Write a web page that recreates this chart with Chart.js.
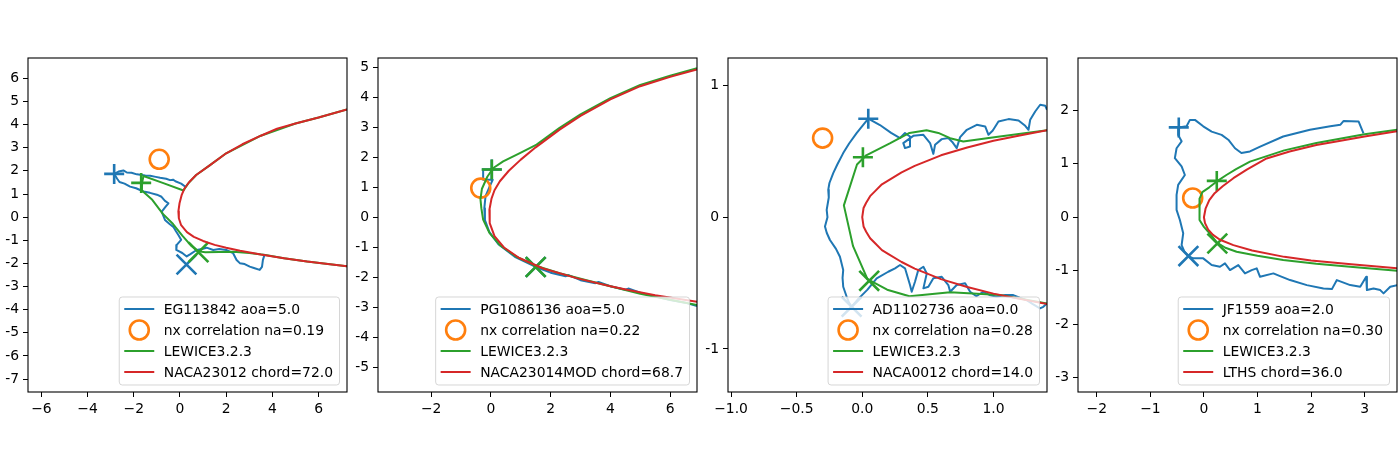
<!DOCTYPE html>
<html>
<head>
<meta charset="utf-8">
<script src="https://cdn.jsdelivr.net/npm/chart.js@4.4.1/dist/chart.umd.min.js"></script>
<style>
body { margin: 0; background: #fff; width: 1400px; height: 450px; overflow: hidden; position: relative; }
canvas { position: absolute; top: 0; }
</style>
</head>
<body>
<canvas id="c1" width="350" height="450" style="left:0px"></canvas>
<canvas id="c2" width="350" height="450" style="left:350px"></canvas>
<canvas id="c3" width="350" height="450" style="left:700px"></canvas>
<canvas id="c4" width="350" height="450" style="left:1050px"></canvas>
<script>
// ---- panel 1 : EG113842 ----
const p1Labels = ['EG113842 aoa=5.0', 'nx correlation na=0.19', 'LEWICE3.2.3', 'NACA23012 chord=72.0'];
const p1XRange = [-6.58, 7.23];
const p1YRange = [-7.56, 6.88];
const p1XTicks = [-6, -4, -2, 0, 2, 4, 6];
const p1YTicks = [-7, -6, -5, -4, -3, -2, -1, 0, 1, 2, 3, 4, 5, 6];
const p1Ice = [[0.25,1.3],[0.05,1.45],[-0.2,1.55],[-0.3,1.62],[-0.43,1.6],[-0.6,1.66],[-0.86,1.7],[-1.05,1.74],[-1.29,1.79],[-1.5,1.8],
  [-1.87,1.85],[-2.1,1.92],[-2.3,1.93],[-2.45,2.02],[-2.66,1.97],[-2.85,1.87],[-2.72,1.66],[-2.62,1.52],[-2.4,1.45],[-2.16,1.32],
  [-1.9,1.25],[-1.58,1.11],[-1.3,1.05],[-1.0,0.97],[-0.8,0.88],[-0.65,0.7],[-0.5,0.6],[-0.62,0.45],[-0.79,0.24],[-0.72,0.05],
  [-0.65,-0.12],[-0.45,-0.3],[-0.29,-0.42],[-0.18,-0.6],[-0.07,-0.77],[0.05,-0.98],[-0.14,-1.2],[-0.16,-1.42],[0.1,-1.55],[0.29,-1.7],
  [0.45,-1.6],[0.72,-1.42],[0.95,-1.38],[1.15,-1.32],[1.44,-1.42],[1.7,-1.38],[2.0,-1.42],[2.3,-1.56],[2.45,-1.85],[2.59,-1.99],
  [2.8,-2.03],[3.02,-2.14],[3.2,-2.2],[3.45,-2.28],[3.55,-2.15],[3.59,-1.85],[3.67,-1.6]];
const p1IceMarks = [[-2.85,1.87],[0.28,-2.05]];
const p1Nx = [[-0.9,2.5]];
const p1Lewice = [[7.23,4.66],[6.0,4.31],[5.0,4.05],[3.5,3.52],[2.0,2.76],[1.3,2.25],[0.7,1.82],[0.35,1.45],[0.15,1.15],[-0.72,1.47],
  [-1.58,1.78],[-1.64,1.5],[-1.65,1.15],[-1.2,0.75],[-0.75,0.15],[-0.3,-0.3],[0.1,-0.8],[0.5,-1.25],[0.8,-1.48],[1.1,-1.52],
  [2.3,-1.5],[3.0,-1.55],[3.7,-1.64],[4.5,-1.78],[5.5,-1.92],[7.23,-2.12]];
const p1LewiceMarks = [[-1.68,1.48],[0.8,-1.52]];
const p1Airfoil = [[7.23,4.66],[6.0,4.31],[5.0,4.05],[4.2,3.82],[3.5,3.52],[2.7,3.15],[2.0,2.76],[1.3,2.25],[0.7,1.82],[0.4,1.52],
  [0.2,1.25],[0.07,0.95],[-0.02,0.6],[-0.07,0.25],[-0.05,-0.05],[0.05,-0.35],[0.3,-0.65],[0.6,-0.85],[1.0,-1.03],[1.5,-1.2],
  [2.0,-1.32],[2.6,-1.45],[3.5,-1.62],[4.5,-1.78],[5.5,-1.92],[6.4,-2.03],[7.23,-2.12]];

// ---- panel 2 : PG1086136 ----
const p2Labels = ['PG1086136 aoa=5.0', 'nx correlation na=0.22', 'LEWICE3.2.3', 'NACA23014MOD chord=68.7'];
const p2XRange = [-3.78, 6.9];
const p2YRange = [-5.83, 5.31];
const p2XTicks = [-2, 0, 2, 4, 6];
const p2YTicks = [-5, -4, -3, -2, -1, 0, 1, 2, 3, 4, 5];
const p2Ice = [[-0.26,1.55],[-0.26,1.25],[0.06,1.25],[-0.05,1.0],[-0.18,0.7],[-0.22,0.3],[-0.2,-0.1],[-0.05,-0.5],[0.25,-0.9],[0.8,-1.32],
  [1.5,-1.66],[2.0,-1.85],[2.5,-1.97],[2.6,-1.93],[3.0,-2.1],[3.5,-2.2],[3.6,-2.16],[4.0,-2.3],[4.5,-2.42],[4.6,-2.38],
  [5.0,-2.52],[5.5,-2.64],[6.0,-2.76],[6.5,-2.85],[6.9,-2.96]];
const p2IceMarks = [[0.03,1.59],[1.5,-1.66]];
const p2Nx = [[-0.34,0.97]];
const p2Lewice = [[6.9,4.97],[6.0,4.72],[5.0,4.41],[4.0,3.97],[3.0,3.43],[2.3,2.98],[1.53,2.42],[0.97,2.14],[0.41,1.86],[0.08,1.64],
  [-0.12,1.35],[-0.3,0.95],[-0.35,0.6],[-0.32,0.3],[-0.26,-0.08],[-0.05,-0.52],[0.3,-0.93],[0.85,-1.32],[1.5,-1.62],[2.3,-1.87],
  [3.2,-2.1],[4.0,-2.3],[5.0,-2.55],[6.0,-2.75],[6.9,-2.93]];
const p2LewiceMarks = [[0.03,1.59],[1.5,-1.66]];
const p2Airfoil = [[6.9,4.93],[6.0,4.68],[5.0,4.37],[4.0,3.93],[3.0,3.38],[2.3,2.92],[1.5,2.33],[1.0,1.92],[0.6,1.55],[0.3,1.2],
  [0.12,0.9],[0.02,0.62],[-0.05,0.25],[-0.04,-0.2],[0.12,-0.63],[0.45,-1.02],[0.95,-1.36],[1.75,-1.71],[2.9,-2.04],[4.0,-2.3],
  [4.6,-2.43],[5.5,-2.6],[6.9,-2.82]];

// ---- panel 3 : AD1102736 ----
const p3Labels = ['AD1102736 aoa=0.0', 'nx correlation na=0.28', 'LEWICE3.2.3', 'NACA0012 chord=14.0'];
const p3XRange = [-1.023, 1.408];
const p3YRange = [-1.327, 1.209];
const p3XTicks = [-1, -0.5, 0, 0.5, 1];
const p3YTicks = [-1, 0, 1];
const p3Ice = [[1.408,0.816],[1.395,0.846],[1.356,0.854],[1.318,0.803],[1.28,0.74],[1.267,0.664],[1.242,0.694],[1.191,0.735],[1.115,0.745],[1.038,0.727],
  [0.995,0.659],[0.962,0.626],[0.937,0.689],[0.873,0.702],[0.797,0.664],[0.746,0.608],[0.72,0.525],[0.69,0.567],[0.656,0.601],[0.606,0.593],
  [0.555,0.55],[0.542,0.481],[0.517,0.563],[0.466,0.626],[0.389,0.618],[0.313,0.563],[0.326,0.525],[0.364,0.537],[0.364,0.613],[0.326,0.639],
  [0.288,0.601],[0.22,0.64],[0.135,0.7],[0.046,0.748],[-0.043,0.639],[-0.1,0.56],[-0.145,0.487],[-0.19,0.4],[-0.221,0.335],[-0.25,0.26],
  [-0.259,0.208],[-0.255,0.15],[-0.271,0.056],[-0.265,0.0],[-0.284,-0.071],[-0.27,-0.12],[-0.246,-0.173],[-0.2,-0.24],[-0.17,-0.3],[-0.145,-0.4],
  [-0.15,-0.46],[-0.145,-0.528],[-0.12,-0.6],[-0.1,-0.65],[-0.081,-0.68],[-0.03,-0.62],[0.04,-0.55],[0.11,-0.464],[0.198,-0.414],[0.25,-0.388],
  [0.288,-0.363],[0.326,-0.388],[0.364,-0.515],[0.377,-0.566],[0.402,-0.49],[0.427,-0.401],[0.466,-0.376],[0.492,-0.426],[0.466,-0.54],[0.504,-0.528],
  [0.542,-0.464],[0.606,-0.452],[0.656,-0.515],[0.67,-0.566],[0.72,-0.515],[0.784,-0.502],[0.822,-0.566],[0.87,-0.6],[0.922,-0.566],[0.97,-0.59],
  [1.024,-0.604],[1.09,-0.59],[1.151,-0.591],[1.2,-0.61],[1.253,-0.629],[1.3,-0.66],[1.354,-0.692],[1.38,-0.68],[1.408,-0.654]];
const p3IceMarks = [[0.046,0.748],[-0.081,-0.68]];
const p3Nx = [[-0.302,0.601]];
const p3Lewice = [[1.41,0.66],[1.02,0.61],[0.77,0.575],[0.67,0.6],[0.58,0.64],[0.49,0.66],[0.36,0.64],[0.21,0.56],[0.03,0.47],[-0.04,0.4],
  [-0.14,0.09],[-0.07,-0.22],[0.04,-0.47],[0.19,-0.55],[0.36,-0.6],[0.67,-0.57],[1.05,-0.59],[1.41,-0.655]];
const p3LewiceMarks = [[0.005,0.455],[0.053,-0.483]];
const p3Airfoil = [[1.41,0.66],[1.2,0.62],[1.0,0.58],[0.8,0.53],[0.6,0.47],[0.5,0.43],[0.4,0.39],[0.3,0.34],[0.2,0.28],[0.15,0.25],
  [0.1,0.2],[0.06,0.16],[0.03,0.11],[0.01,0.07],[0,0],[0.01,-0.07],[0.03,-0.11],[0.06,-0.16],[0.1,-0.2],[0.15,-0.25],
  [0.2,-0.28],[0.3,-0.34],[0.4,-0.39],[0.5,-0.43],[0.6,-0.47],[0.8,-0.53],[1.0,-0.58],[1.2,-0.62],[1.41,-0.66]];

// ---- panel 4 : JF1559 ----
const p4Labels = ['JF1559 aoa=2.0', 'nx correlation na=0.30', 'LEWICE3.2.3', 'LTHS chord=36.0'];
const p4XRange = [-2.352, 3.606];
const p4YRange = [-3.266, 2.977];
const p4XTicks = [-2, -1, 0, 1, 2, 3];
const p4YTicks = [-3, -2, -1, 0, 1, 2];
const p4Ice = [[2.98,1.57],[2.89,1.79],[2.61,1.8],[2.55,1.73],[2.36,1.7],[1.98,1.635],[1.48,1.51],[1.05,1.32],[0.86,1.23],[0.7,1.2],
  [0.58,1.29],[0.455,1.45],[0.33,1.54],[0.144,1.6],[-0.013,1.7],[-0.168,1.82],[-0.262,1.82],[-0.324,1.7],[-0.47,1.68],[-0.481,1.54],
  [-0.417,1.42],[-0.511,1.29],[-0.543,1.105],[-0.417,0.95],[-0.356,0.79],[-0.481,0.605],[-0.511,0.42],[-0.511,0.137],[-0.449,-0.05],[-0.387,-0.3],
  [-0.417,-0.52],[-0.36,-0.65],[-0.29,-0.725],[-0.2,-0.768],[-0.013,-0.768],[0.144,-0.893],[0.299,-0.925],[0.393,-0.861],[0.487,-0.987],[0.642,-0.893],
  [0.767,-1.049],[0.892,-0.987],[0.986,-0.955],[1.048,-1.112],[1.297,-1.049],[1.422,-1.099],[1.609,-1.174],[1.922,-1.268],[2.232,-1.33],[2.39,-1.343],
  [2.483,-1.174],[2.732,-1.268],[2.919,-1.3],[3.031,-1.112],[3.044,-1.361],[3.168,-1.33],[3.293,-1.361],[3.355,-1.423],[3.48,-1.3],[3.61,-1.268]];
const p4IceMarks = [[-0.47,1.68],[-0.29,-0.725]];
const p4Nx = [[-0.21,0.36]];
const p4Lewice = [[3.61,1.635],[3.0,1.55],[2.1,1.39],[1.5,1.25],[0.86,1.04],[0.6,0.9],[0.42,0.79],[0.24,0.67],[0.1,0.56],[-0.03,0.47],
  [-0.08,0.35],[-0.09,0.15],[-0.075,-0.05],[0.0,-0.18],[0.08,-0.27],[0.25,-0.48],[0.4,-0.57],[0.61,-0.644],[1.0,-0.72],[1.48,-0.8],
  [2.1,-0.87],[2.73,-0.925],[3.61,-1.0]];
const p4LewiceMarks = [[0.24,0.68],[0.25,-0.49]];
const p4Airfoil = [[3.61,1.61],[3.0,1.51],[2.5,1.42],[2.1,1.35],[1.6,1.23],[1.17,1.1],[0.8,0.89],[0.55,0.73],[0.35,0.58],[0.2,0.45],
  [0.1,0.32],[0.03,0.16],[0.0,0.0],[0.02,-0.11],[0.08,-0.23],[0.17,-0.33],[0.3,-0.42],[0.55,-0.52],[0.9,-0.62],[1.5,-0.74],
  [2.0,-0.81],[2.75,-0.88],[3.61,-0.955]];

const BLUE = '#1f77b4', ORANGE = '#ff7f0e', GREEN = '#2ca02c', RED = '#d62728';
const FONT = '"DejaVu Sans", sans-serif';
const FONT_SIZE = 13.9;

function toXY(arr) {
    return arr.map(p => ({ x: p[0], y: p[1] }));
}

// matplotlib-like frame around the plot area
const framePlugin = {
    id: 'frame',
    afterDatasetsDraw(chart) {
        const a = chart.chartArea, ctx = chart.ctx;
        ctx.save();
        ctx.strokeStyle = '#000';
        ctx.lineWidth = 1.1;
        ctx.strokeRect(a.left, a.top, a.right - a.left, a.bottom - a.top);
        ctx.restore();
    }
};

// legend box in the lower right corner of the axes
const legendPlugin = {
    id: 'boxLegend',
    afterDraw(chart) {
        const items = chart.data.datasets
            .filter(d => d.legendRank !== undefined)
            .sort((a, b) => a.legendRank - b.legendRank);
        const a = chart.chartArea, ctx = chart.ctx;
        ctx.save();
        ctx.font = FONT_SIZE + 'px ' + FONT;
        let tw = 0;
        items.forEach(it => { tw = Math.max(tw, ctx.measureText(it.label).width); });
        const w = 44.5 + tw + 6.5, h = 88;
        const x0 = a.right - 7.5 - w, y0 = a.bottom - 7 - h;
        ctx.beginPath();
        ctx.roundRect(x0, y0, w, h, 3);
        ctx.fillStyle = 'rgba(255,255,255,0.8)';
        ctx.fill();
        ctx.strokeStyle = 'rgba(204,204,204,0.8)';
        ctx.lineWidth = 1;
        ctx.stroke();
        items.forEach((it, i) => {
            const cy = y0 + 12 + i * 21;
            if (it.legendKind === 'circle') {
                ctx.strokeStyle = it.pointBorderColor;
                ctx.lineWidth = 2.6;
                ctx.beginPath();
                ctx.arc(x0 + 20, cy, 9.5, 0, Math.PI * 2);
                ctx.stroke();
            } else {
                ctx.strokeStyle = it.borderColor;
                ctx.lineWidth = 2;
                ctx.beginPath();
                ctx.moveTo(x0 + 5, cy);
                ctx.lineTo(x0 + 35, cy);
                ctx.stroke();
            }
            ctx.fillStyle = '#000';
            ctx.textBaseline = 'middle';
            ctx.fillText(it.label, x0 + 44.5, cy + 1);
        });
        ctx.restore();
    }
};

function lineSet(pts, color, label, rank) {
    return {
        label: label, legendRank: rank, legendKind: 'line',
        data: toXY(pts), showLine: true, borderColor: color, borderWidth: 2,
        borderJoinStyle: 'round', pointRadius: 0, pointHoverRadius: 0, tension: 0
    };
}

function markSet(pts, color) {
    return {
        data: toXY(pts), showLine: false,
        pointStyle: ['cross', 'crossRot'], pointRadius: [10, 14], pointHoverRadius: [10, 14],
        pointBorderColor: color, pointBorderWidth: 2.6, pointBackgroundColor: 'transparent'
    };
}

function circleSet(pts, color, label, rank) {
    return {
        label: label, legendRank: rank, legendKind: 'circle',
        data: toXY(pts), showLine: false, pointStyle: 'circle',
        pointRadius: 9.5, pointHoverRadius: 9.5,
        pointBorderColor: color, pointBorderWidth: 2.6, pointBackgroundColor: 'transparent'
    };
}

function axis(range, ticks, fmt, dir) {
    return {
        type: 'linear', min: range[0], max: range[1],
        border: { display: false },
        grid: { drawOnChartArea: false, drawTicks: true, tickLength: 5, color: '#000', lineWidth: 1 },
        ticks: { color: '#000', font: { family: FONT, size: FONT_SIZE }, padding: 4, autoSkip: false, maxRotation: 0, callback: fmt },
        afterBuildTicks: s => { s.ticks = ticks.map(v => ({ value: v })); },
        afterFit: s => {
            if (dir === 'x') s.height = 58; else s.width = 28;
            s.paddingLeft = s.paddingRight = s.paddingTop = s.paddingBottom = 0;
        }
    };
}

function makeChart(id, labels, xRange, yRange, xTicks, yTicks, xDec, ice, iceMarks, nx, lewice, lewMarks, airfoil) {
    // first dataset is drawn on top in Chart.js
    const datasets = [
        lineSet(airfoil, RED, labels[3], 3),
        markSet(lewMarks, GREEN),
        lineSet(lewice, GREEN, labels[2], 2),
        circleSet(nx, ORANGE, labels[1], 1),
        markSet(iceMarks, BLUE),
        lineSet(ice, BLUE, labels[0], 0)
    ];
    return new Chart(document.getElementById(id), {
        type: 'scatter',
        data: { datasets: datasets },
        options: {
            responsive: false,
            animation: false,
            events: [],
            layout: { autoPadding: false, padding: { top: 58, right: 3, left: 0, bottom: 0 } },
            plugins: { legend: { display: false }, tooltip: { enabled: false } },
            scales: {
                x: axis(xRange, xTicks, v => v.toFixed(xDec).replace('-', '\u2212'), 'x'),
                y: axis(yRange, yTicks, v => String(v), 'y')
            }
        },
        plugins: [framePlugin, legendPlugin]
    });
}

document.addEventListener('DOMContentLoaded', function() {
    makeChart('c1', p1Labels, p1XRange, p1YRange, p1XTicks, p1YTicks, 0, p1Ice, p1IceMarks, p1Nx, p1Lewice, p1LewiceMarks, p1Airfoil);
    makeChart('c2', p2Labels, p2XRange, p2YRange, p2XTicks, p2YTicks, 0, p2Ice, p2IceMarks, p2Nx, p2Lewice, p2LewiceMarks, p2Airfoil);
    makeChart('c3', p3Labels, p3XRange, p3YRange, p3XTicks, p3YTicks, 1, p3Ice, p3IceMarks, p3Nx, p3Lewice, p3LewiceMarks, p3Airfoil);
    makeChart('c4', p4Labels, p4XRange, p4YRange, p4XTicks, p4YTicks, 0, p4Ice, p4IceMarks, p4Nx, p4Lewice, p4LewiceMarks, p4Airfoil);
});
</script>
</body>
</html>
